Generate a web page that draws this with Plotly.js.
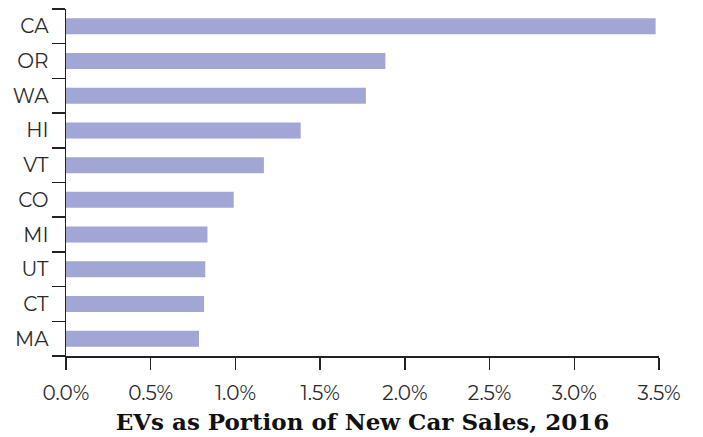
<!DOCTYPE html>
<html>
<head>
<meta charset="utf-8">
<script src="https://cdn.plot.ly/plotly-3.0.1.min.js"></script>
<style>html,body{margin:0;padding:0;background:#fff;}#chart{width:703px;height:437px;}</style>
</head>
<body>
<div id="chart"></div>
<script>
var states = ["CA", "OR", "WA", "HI", "VT", "CO", "MI", "UT", "CT", "MA"];
var evShare = [3.48, 1.885, 1.77, 1.385, 1.168, 0.99, 0.835, 0.822, 0.815, 0.785];
var xTickVals = [0, 0.5, 1, 1.5, 2, 2.5, 3, 3.5];
var xTickText = ["0.0%", "0.5%", "1.0%", "1.5%", "2.0%", "2.5%", "3.0%", "3.5%"];
var xTitle = "EVs as Portion of New Car Sales, 2016";

var trace = {
  type: "bar",
  orientation: "h",
  y: states,
  x: evShare,
  width: 0.46,
  marker: {color: "#a1a6d4"},
  hoverinfo: "skip"
};

var layout = {
  width: 703, height: 437,
  margin: {l: 66, r: 44, t: 9, b: 81},
  paper_bgcolor: "#fff", plot_bgcolor: "#fff",
  showlegend: false,
  font: {family: "Montserrat, 'Noto Sans', sans-serif", color: "#222", size: 20},
  xaxis: {
    range: [0, 3.5],
    tickvals: xTickVals, ticktext: xTickText,
    showgrid: false, zeroline: false,
    showline: true, linecolor: "#222", linewidth: 1.5,
    ticks: "outside", ticklen: 12, tickwidth: 1.5, tickcolor: "#222",
    tickfont: {size: 20, color: "#2a2a2a"},
    ticklabelstandoff: 6,
    title: {text: xTitle, font: {family: "'DejaVu Serif', serif", size: 23, color: "#111", weight: "bold"}, standoff: 10},
    fixedrange: true
  },
  yaxis: {
    categoryorder: "array", categoryarray: states.slice().reverse(),
    range: [-0.5, 9.5],
    showgrid: false, zeroline: false,
    showline: true, linecolor: "#222", linewidth: 1.5,
    ticks: "outside", ticklen: 13, tickwidth: 1.5, tickcolor: "#222",
    tickson: "boundaries",
    tickfont: {size: 20, color: "#2a2a2a"},
    ticklabelstandoff: 12,
    fixedrange: true
  }
};

Plotly.newPlot("chart", [trace], layout, {displayModeBar: false, staticPlot: true});
</script>
</body>
</html>
